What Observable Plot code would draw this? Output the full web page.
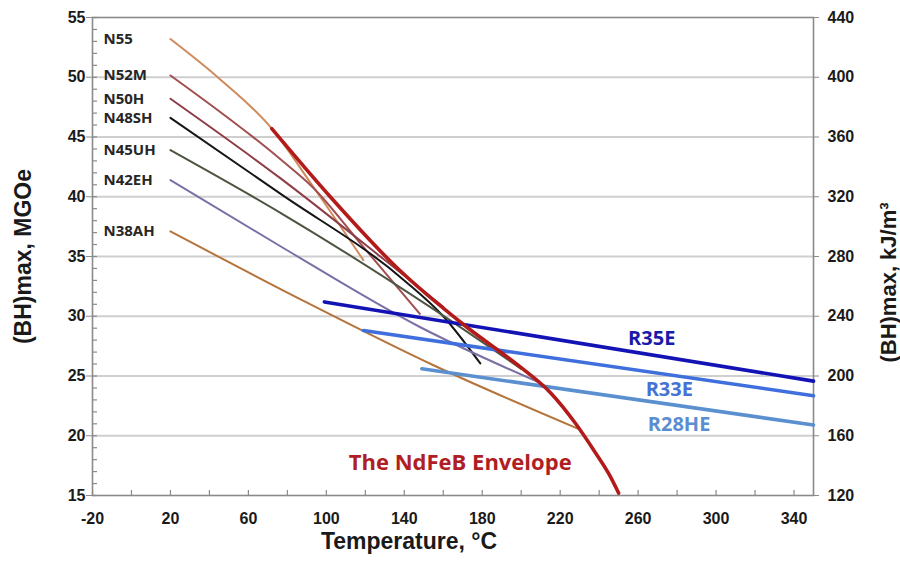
<!DOCTYPE html>
<html><head><meta charset="utf-8">
<script src="https://cdn.jsdelivr.net/npm/d3@7"></script>
<script src="https://cdn.jsdelivr.net/npm/@observablehq/plot@0.6"></script>
<style>
html,body{margin:0;padding:0;background:#fff;}
#chart{width:900px;height:561px;}
</style></head><body><div id="chart"></div>
<script>
// ---- tick labels ----
const xTickLabels = [-20, 20, 60, 100, 140, 180, 220, 260, 300, 340];
const xMinorTicks = [-20, 0, 20, 40, 60, 80, 100, 120, 140, 160, 180, 200, 220, 240, 260, 280, 300, 320, 340];
const yTickLabels = [15, 20, 25, 30, 35, 40, 45, 50, 55];
const yMinorTicks = d3.range(15, 56, 1);
const yGrid = [20, 25, 30, 35, 40, 45, 50];
const kjTickLabels = [120, 160, 200, 240, 280, 320, 360, 400, 440];

// ---- NdFeB grades: temperature (°C) and (BH)max (MGOe) ----
const grades = ["N55", "N52M", "N50H", "N48SH", "N45UH", "N42EH", "N38AH"];
const n55T = [20, 45, 72, 93, 119];
const n55V = [53.2, 49.9, 45.7, 40.9, 34.7];
const n52mT = [20, 76, 93, 119, 148];
const n52mV = [50.15, 43.2, 40.8, 35.8, 30.2];
const n50hT = [20, 76, 130, 160];
const n50hV = [48.2, 41.6, 34.7, 30.8];
const n48shT = [20, 76, 140, 160, 179];
const n48shV = [46.6, 40.3, 33.0, 30.0, 26.05];
const n45uhT = [20, 76, 153, 200];
const n45uhV = [43.9, 38.7, 30.8, 25.6];
const n42ehT = [20, 76, 148, 210];
const n42ehV = [41.4, 35.9, 29.1, 24.4];
const n38ahT = [20, 87, 155, 229];
const n38ahV = [37.1, 31.4, 25.9, 20.6];

// ---- NdFeB envelope ----
const envT = [72, 102, 136, 172, 200, 215, 228, 238, 245, 250];
const envV = [45.7, 40.0, 34.1, 29.1, 25.7, 23.6, 21.0, 18.6, 16.8, 15.2];

// ---- SmCo grades ----
const smco = ["R35E", "R33E", "R28HE"];
const r35eT = [99, 350], r35eV = [31.2, 24.57];
const r33eT = [119, 350], r33eV = [28.8, 23.35];
const r28heT = [149, 350], r28heV = [25.6, 20.9];
const smcoLabelT = [267, 276, 281];
const smcoLabelV = [28.1, 23.9, 20.9];

const envLabel = "The NdFeB Envelope";
const envLabelT = 168.7, envLabelV = 17.7;

// ---- styles ----
const gradeColors = ["#cf8a5c", "#a14f50", "#8e3c48", "#151515", "#4c5442", "#7b70a6", "#b5743c"];
const smcoColors = ["#1212b5", "#3f6fdc", "#5a8fd0"];
const smcoTextColors = ["#1a1aa8", "#4672d6", "#5b8ed0"];

const gradeT = [n55T, n52mT, n50hT, n48shT, n45uhT, n42ehT, n38ahT];
const gradeV = [n55V, n52mV, n50hV, n48shV, n45uhV, n42ehV, n38ahV];
const gradeRows = grades.flatMap((g, i) => gradeT[i].map((t, j) => ({grade: g, T: t, V: gradeV[i][j]})));
const gradeLabelRows = grades.map((g, i) => ({grade: g, V: gradeV[i][0]}));
const envRows = envT.map((t, j) => ({T: t, V: envV[j]}));
const smcoT = [r35eT, r33eT, r28heT];
const smcoV = [r35eV, r33eV, r28heV];
const smcoRows = smco.flatMap((g, i) => smcoT[i].map((t, j) => ({grade: g, T: t, V: smcoV[i][j]})));
const smcoLabelRows = smco.map((g, i) => ({grade: g, T: smcoLabelT[i], V: smcoLabelV[i]}));

const W = 900, H = 561, mL = 92, mR = 87, mT = 17, mB = 66;
const innerW = W - mL - mR, innerH = H - mT - mB;
const axisFont = "Liberation Sans, Arial, sans-serif";
const labelFont = "Open Sans, sans-serif";

const chart = Plot.plot({
  width: W, height: H,
  marginLeft: mL, marginRight: mR, marginTop: mT, marginBottom: mB,
  style: {background: "transparent", fontFamily: axisFont},
  x: {domain: [-20, 350]},
  y: {domain: [15, 55]},
  color: {domain: grades.concat(smco), range: gradeColors.concat(smcoColors)},
  marks: [
    Plot.gridY(yGrid, {stroke: "#cfcfcf", strokeOpacity: 1, strokeWidth: 2}),
    // inner minor ticks
    Plot.ruleX(xMinorTicks, {x: d => d, insetTop: innerH - 5, stroke: "#8a8a8a", strokeWidth: 1.2}),
    Plot.ruleY(yMinorTicks, {y: d => d, insetRight: innerW - 5, stroke: "#8a8a8a", strokeWidth: 1.2}),
    Plot.frame({stroke: "#8a8a8a", strokeWidth: 1.6}),
    Plot.axisY({ticks: yTickLabels, tickSize: 6, tickPadding: 1, stroke: "#8a8a8a", fill: "#1a1a1a",
      tickFormat: d => String(d),
      fontSize: 16, fontWeight: "bold", fontFamily: axisFont, label: null}),
    Plot.axisY({anchor: "right", ticks: yTickLabels, tickSize: 5, tickPadding: 9, stroke: "#8a8a8a", fill: "#1a1a1a",
      tickFormat: d => String(kjTickLabels[yTickLabels.indexOf(d)]),
      fontSize: 16, fontWeight: "bold", fontFamily: axisFont, label: null}),
    Plot.axisX({ticks: xTickLabels, tickSize: 0, tickPadding: 17, fill: "#1a1a1a",
      tickFormat: d => String(d),
      fontSize: 16, fontWeight: "bold", fontFamily: axisFont, label: null}),
    // axis titles
    Plot.text(["(BH)max, MGOe"], {frameAnchor: "left", textAnchor: "middle", dx: -69, rotate: -90, fontSize: 23, fontWeight: "bold", fontFamily: axisFont, fill: "#1a1a1a"}),
    Plot.text(["(BH)max, kJ/m³"], {frameAnchor: "right", textAnchor: "middle", dx: 75, dy: 26, rotate: -90, fontSize: 22, fontWeight: "bold", fontFamily: axisFont, fill: "#1a1a1a"}),
    Plot.text(["Temperature, °C"], {frameAnchor: "bottom", textAnchor: "middle", dx: -44, dy: 53, fontSize: 23, fontWeight: "bold", fontFamily: axisFont, fill: "#1a1a1a"}),
    // grade lines
    Plot.line(gradeRows, {x: "T", y: "V", z: "grade", stroke: "grade", strokeWidth: 2, curve: "monotone-x"}),
    Plot.text(gradeLabelRows, {y: "V", text: "grade", frameAnchor: "left", dx: 11, textAnchor: "start",
      fontSize: 15, fontWeight: "bold", fontFamily: labelFont, fill: "#262626"}),
    // SmCo lines
    Plot.line(smcoRows, {x: "T", y: "V", z: "grade", stroke: "grade", strokeWidth: 3.6}),
    Plot.text(smcoLabelRows, {x: "T", y: "V", text: "grade", fill: (d, i) => smcoTextColors[i],
      fontSize: 20, fontWeight: "bold", fontFamily: labelFont}),
    // envelope
    Plot.line(envRows, {x: "T", y: "V", stroke: "#b31b1b", strokeWidth: 3.6, curve: "monotone-x"}),
    Plot.text([envLabel], {x: envLabelT, y: envLabelV, fill: "#b01e23", fontSize: 22, fontWeight: "bold", fontFamily: labelFont})
  ]
});
document.getElementById("chart").appendChild(chart);
</script>
</body></html>
